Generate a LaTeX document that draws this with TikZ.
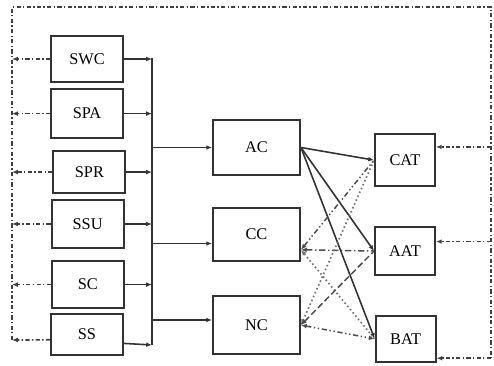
\documentclass[tikz,border=0pt]{standalone}
\usepackage{fontspec}
\setmainfont{Liberation Serif}
\usetikzlibrary{arrows.meta,calc}

\begin{document}
\begin{tikzpicture}[
  font=\fontsize{15.5}{18}\selectfont,
  >={Latex[length=5.5pt,width=4.5pt]},
  blk/.style={draw=black!80, line width=1.8pt, inner sep=0pt},
  lblk/.style={blk, minimum width=2.4cm},
  mblk/.style={blk, minimum width=2.9cm},
  rblk/.style={blk, minimum width=2.0cm},
  busline/.style={draw=black!80, line width=1.5pt},
  fbline/.style={draw=black!75, line width=1.6pt, dash pattern=on 4pt off 2.2pt on 1.3pt off 2.2pt},
  linkdd/.style={draw=black!70, line width=1.4pt, dash pattern=on 5pt off 2.5pt on 1.3pt off 2.5pt on 1.3pt off 2.5pt},
  linkdot/.style={draw=black!55, line width=1.6pt, dash pattern=on 1.5pt off 2.5pt},
  linkdash/.style={draw=black!70, line width=1.4pt, dash pattern=on 6pt off 3pt},
  linkdd2/.style={draw=black!70, line width=1.4pt, dash pattern=on 6pt off 2.5pt on 1.3pt off 2.5pt}
]
  \useasboundingbox (0,0) rectangle (16.467,12.167);
  % sensor blocks
  \node[lblk, minimum height=1.53cm] (swc) at (2.90,10.20) {SWC};
  \node[lblk, minimum height=1.63cm] (spa) at (2.90,8.38) {SPA};
  \node[lblk, minimum height=1.40cm] (spr) at (2.98,6.43) {SPR};
  \node[lblk, minimum height=1.60cm] (ssu) at (2.92,4.70) {SSU};
  \node[lblk, minimum height=1.57cm] (sc) at (2.93,2.68) {SC};
  \node[lblk, minimum height=1.37cm] (ss) at (2.90,1.02) {SS};
  % controllers
  \node[mblk, minimum height=1.83cm] (ac) at (8.55,7.25) {AC};
  \node[mblk, minimum height=1.77cm] (cc) at (8.55,4.35) {CC};
  \node[mblk, minimum height=1.93cm] (nc) at (8.55,1.33) {NC};
  % actuators
  \node[rblk, minimum height=1.73cm] (cat) at (13.50,6.83) {CAT};
  \node[rblk, minimum height=1.60cm] (aat) at (13.50,3.80) {AAT};
  \node[rblk, minimum height=1.53cm] (bat) at (13.52,0.87) {BAT};

  % bus
  \coordinate (busT) at (5.067,10.233);
  \coordinate (busB) at (5.067,0.667);
  \draw[busline] (busT) -- (busB);
  \foreach \s in {swc,spa,spr,ssu,sc}
    \draw[busline,->] (\s.east) -- (\s.east -| busT);
  \coordinate (ssout) at ([yshift=-0.3cm]ss.east);
  \draw[busline,->] (ssout) -- (busB);
  \coordinate (ccin) at ([yshift=-0.3cm]cc.west);
  \coordinate (ncin) at ([yshift=0.17cm]nc.west);
  \draw[busline,->] (ac.west -| busT) -- (ac.west);
  \draw[busline,->] (ccin -| busT) -- (ccin);
  \draw[busline,->] (ncin -| busT) -- (ncin);

  % controllers to actuators
  \draw[busline,->] (ac.east) -- (cat.west);
  \draw[busline,->] (ac.east) -- (aat.west);
  \draw[busline,->] (ac.east) -- (bat.west);
  \coordinate (ccout) at (cc.-19);
  \draw[linkdd,<-] (ccout) -- (cat.west);
  \draw[linkdd2,<-] (ccout) -- (aat.west);
  \draw[linkdot,<-] (ccout) -- (bat.west);
  \draw[linkdot,<-] (nc.east) -- (cat.west);
  \draw[linkdash,<-] (nc.east) -- (aat.west);
  \draw[linkdd,<->] (nc.east) -- (bat.west);

  % feedback loop
  \coordinate (fbBL) at (0.40,0.833);
  \coordinate (fbTL) at (0.40,11.933);
  \coordinate (fbTR) at (16.367,11.933);
  \coordinate (ssfb) at ([yshift=-0.18cm]ss.west);
  \draw[fbline] (fbBL) -- (fbTL) -- (fbTR) -- (bat.-32 -| fbTR);
  \foreach \s in {swc,spa,spr,ssu,sc}
    \draw[fbline,->] (\s.west) -- (\s.west -| fbBL);
  \draw[fbline,->] (ssfb) -- (fbBL);
  \draw[fbline,->] (cat.23 -| fbTR) -- (cat.23);
  \draw[fbline,->] (aat.17 -| fbTR) -- (aat.17);
  \draw[fbline,->] (bat.-32 -| fbTR) -- (bat.-32);
\end{tikzpicture}
\end{document}
